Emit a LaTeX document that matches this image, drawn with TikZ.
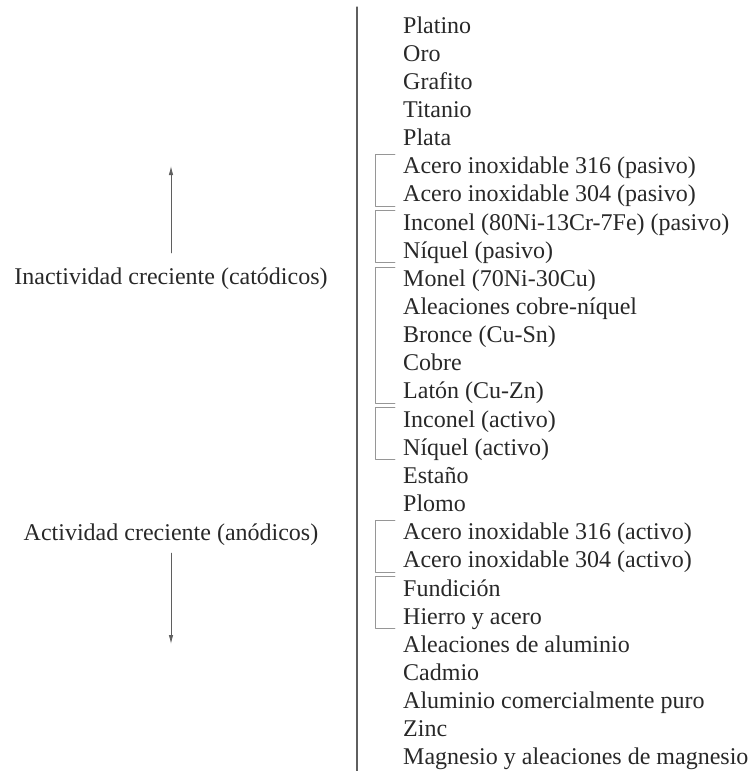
\documentclass[tikz,border=0pt]{standalone}
\usepackage{fontspec}
\setmainfont{Liberation Serif}
\usetikzlibrary{arrows.meta}
\usetikzlibrary{positioning}

\begin{document}
\begin{tikzpicture}[x=1pt, y=1pt, >=Latex, line cap=round, line join=round]
		
		% Colors
		\definecolor{InkGray}{RGB}{40,40,40}
		\definecolor{RuleGray}{RGB}{95,95,95}
		\definecolor{BrkGray}{RGB}{150,150,150}
		
		% Styles
		\tikzset{
			metal/.style={
				anchor=base west, inner sep=0pt, text height=19pt, text depth=4pt,
				font=\fontsize{24}{28}\selectfont, text=InkGray
			},
			sidelbl/.style={
				anchor=base, inner sep=0pt, text height=17pt, text depth=5pt,
				font=\fontsize{24}{28}\selectfont, text=InkGray
			},
			divider/.style={draw=RuleGray, line width=1.1pt},
			brk/.style={draw=BrkGray, line width=0.9pt},
			arrAct/.style={-{Latex[length=9pt, width=4.5pt]}, draw=RuleGray, line width=0.9pt}
		}
		
		\useasboundingbox (0,0) rectangle (753,-771);
		
		% Series (noble at the top)
		\foreach \name [count=\i] in {Platino, Oro, Grafito, Titanio, Plata,
			Acero inoxidable 316 (pasivo), Acero inoxidable 304 (pasivo),
			Inconel (80Ni-13Cr-7Fe) (pasivo), Níquel (pasivo),
			Monel (70Ni-30Cu), Aleaciones cobre-níquel, Bronce (Cu-Sn), Cobre,
			Latón (Cu-Zn), Inconel (activo), Níquel (activo), Estaño, Plomo,
			Acero inoxidable 316 (activo), Acero inoxidable 304 (activo),
			Fundición, Hierro y acero, Aleaciones de aluminio, Cadmio,
			Aluminio comercialmente puro, Zinc, Magnesio y aleaciones de magnesio}
		\node[metal] (m\i) at (403, {-33-28.15*(\i-1)}) {\name};
		
		% Brackets
		\foreach \a/\b in {6/7, 8/9, 10/14, 15/16, 19/20, 21/22}
		\draw[brk] ([xshift=-8pt]m\a.north west) -- ++(-20pt,0) |- ([xshift=-8pt]m\b.south west);
		
		% Divider
		\coordinate (divtop) at (357,-7);
		\coordinate (divbot) at (357,-771);
		\draw[divider] (divtop) -- (divbot);
		
		% Side labels
		\node[sidelbl] (inact) at (171,-284) {Inactividad creciente (catódicos)};
		\node[sidelbl] (act) at (171,-540) {Actividad creciente (anódicos)};
		
		\coordinate (uptip) at (171,-166);
		\coordinate (downtip) at (171,-644);
		
		% Arrows
		\draw[arrAct] ([yshift=14pt]inact.north) -- (uptip);
		\draw[arrAct] ([yshift=-8pt]act.south) -- (downtip);
		
	\end{tikzpicture}
\end{document}
